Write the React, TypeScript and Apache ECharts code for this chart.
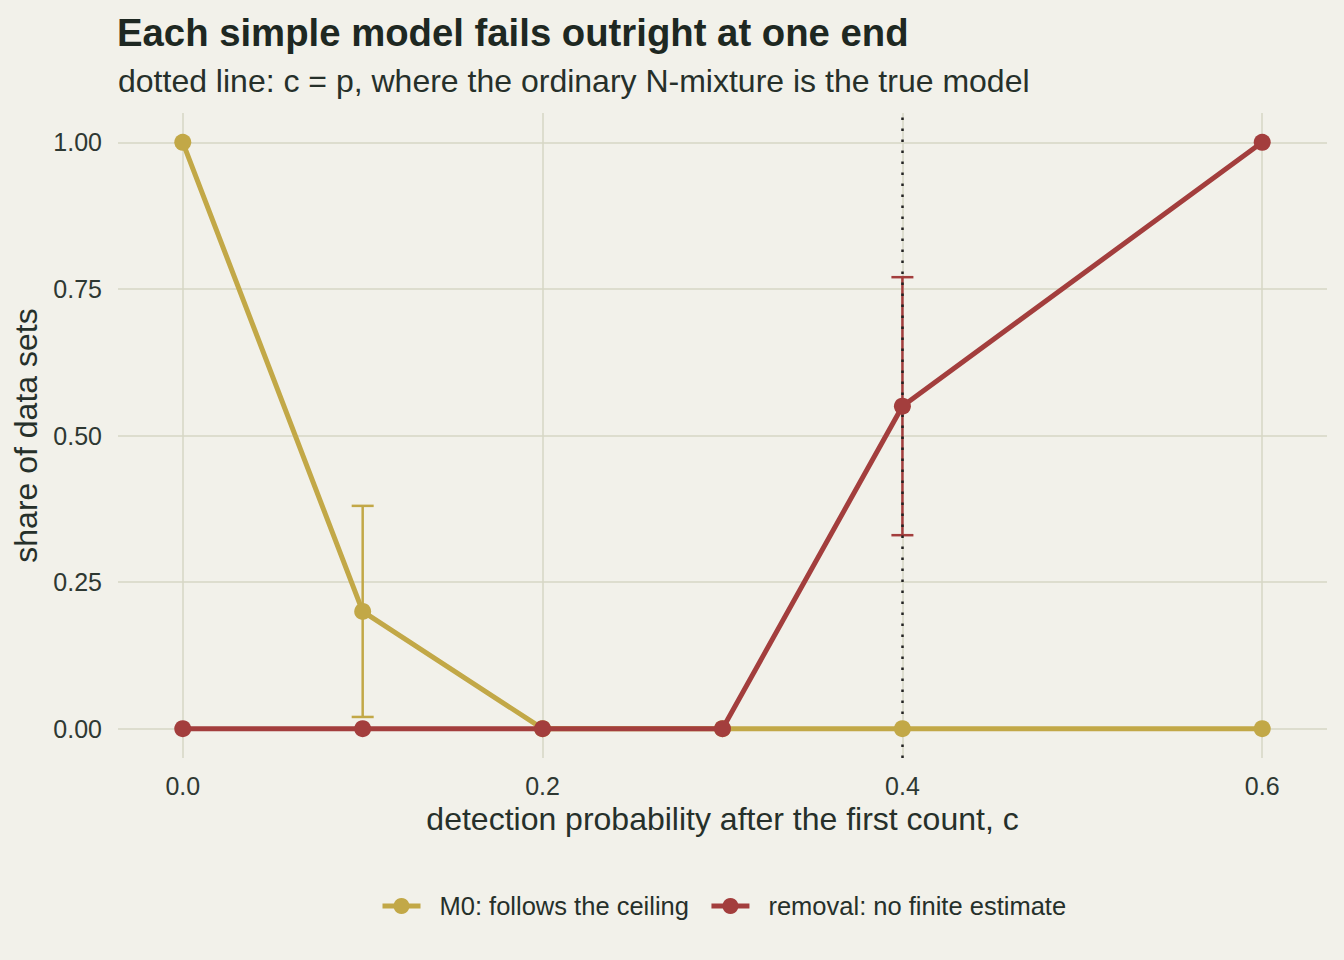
import React, { useEffect, useRef } from 'react';
import * as echarts from 'echarts';

// detection probability after the first count
const cValues = [0, 0.1, 0.2, 0.3, 0.4, 0.6];
// share of data sets where M0 follows the ceiling
const m0Share = [1, 0.2, 0, 0, 0, 0];
// share of data sets where removal model gives no finite estimate
const removalShare = [0, 0, 0, 0, 0.55, 1];

// error bars (interval on the share)
const m0ErrX = [0.1];
const m0ErrLow = [0.02];
const m0ErrHigh = [0.38];
const removalErrX = [0.4];
const removalErrLow = [0.33];
const removalErrHigh = [0.77];

const xTicks = [0, 0.2, 0.4, 0.6];
const yTicks = [0, 0.25, 0.5, 0.75, 1];
const trueModelC = 0.4;

const BG = '#F2F1EA';
const GRID = '#D6D6C4';
const GOLD = '#C2A847';
const RED = '#A33E3D';
const TEXT = '#1E2822';

const errorBars = (xs: number[], lo: number[], hi: number[]) =>
  xs.map((x, i) => [x, lo[i], hi[i]]);

const errorRender = (color: string) => (params: any, api: any) => {
  const x = api.value(0);
  const top = api.coord([x, api.value(2)]);
  const bot = api.coord([x, api.value(1)]);
  const cap = 11;
  const style = { stroke: color, lineWidth: 2.5 };
  return {
    type: 'group',
    children: [
      { type: 'line', shape: { x1: top[0], y1: top[1], x2: bot[0], y2: bot[1] }, style },
      { type: 'line', shape: { x1: top[0] - cap, y1: top[1], x2: top[0] + cap, y2: top[1] }, style },
      { type: 'line', shape: { x1: bot[0] - cap, y1: bot[1], x2: bot[0] + cap, y2: bot[1] }, style },
    ],
  };
};

const App: React.FC = () => {
  const chartRef = useRef<HTMLDivElement>(null);

  useEffect(() => {
    document.body.style.margin = '0';
    document.body.style.background = BG;
    if (!chartRef.current) return;
    const chart = echarts.init(chartRef.current, undefined, { renderer: 'svg' });

    const gridLine = { color: GRID, width: 1.5, type: 'solid' as const };

    chart.setOption({
      animation: false,
      backgroundColor: BG,
      textStyle: { fontFamily: '"Liberation Sans", Arial, sans-serif' },
      title: [
        {
          text: 'Each simple model fails outright at one end',
          left: 112,
          top: 8,
          textStyle: { fontSize: 38.3, fontWeight: 'bold', color: TEXT },
        },
        {
          text: 'dotted line: c = p, where the ordinary N-mixture is the true model',
          left: 113,
          top: 60,
          textStyle: { fontSize: 32, fontWeight: 'normal', color: '#26302A' },
        },
      ],
      grid: { left: 118, right: 17, top: 113, bottom: 202, containLabel: false },
      xAxis: {
        type: 'value',
        min: -0.036,
        max: 0.636,
        name: 'detection probability after the first count, c',
        nameLocation: 'middle',
        nameGap: 44,
        nameTextStyle: { fontSize: 32, color: '#26302A' },
        axisLine: { show: false },
        axisTick: { show: false },
        splitLine: { show: false },
        axisLabel: {
          customValues: xTicks,
          formatter: (v: number) => v.toFixed(1),
          fontSize: 25,
          color: '#2E3832',
          margin: 15,
        },
      },
      yAxis: {
        type: 'value',
        min: -0.05,
        max: 1.05,
        name: 'share of data sets',
        nameLocation: 'middle',
        nameGap: 72,
        nameTextStyle: { fontSize: 32, color: '#26302A' },
        axisLine: { show: false },
        axisTick: { show: false },
        splitLine: { show: false },
        axisLabel: {
          customValues: yTicks,
          formatter: (v: number) => v.toFixed(2),
          fontSize: 25,
          color: '#2E3832',
          margin: 16,
        },
      },
      legend: {
        bottom: 41,
        left: 380,
        padding: 0,
        itemWidth: 38,
        itemHeight: 20,
        itemGap: 20,
        lineStyle: { width: 5 },
        data: ['M0: follows the ceiling', 'removal: no finite estimate'],
        textStyle: { fontSize: 25.5, color: '#26302A', padding: [0, 0, 0, 14] },
      },
      series: [
        {
          name: 'grid',
          type: 'line',
          data: [],
          silent: true,
          z: 0,
          markLine: {
            z: 0,
            silent: true,
            symbol: ['none', 'none'],
            label: { show: false },
            lineStyle: gridLine,
            emphasis: { disabled: true },
            data: [
              ...xTicks.map((v) => ({ xAxis: v })),
              ...yTicks.map((v) => ({ yAxis: v })),
            ],
          },
        },
        {
          name: 'm0err',
          type: 'custom',
          renderItem: errorRender(GOLD),
          data: errorBars(m0ErrX, m0ErrLow, m0ErrHigh),
          z: 1,
          silent: true,
        },
        {
          name: 'remerr',
          type: 'custom',
          renderItem: errorRender(RED),
          data: errorBars(removalErrX, removalErrLow, removalErrHigh),
          z: 1,
          silent: true,
        },
        {
          name: 'vline',
          type: 'line',
          data: [],
          z: 2,
          silent: true,
          markLine: {
            z: 2,
            silent: true,
            symbol: ['none', 'none'],
            label: { show: false },
            emphasis: { disabled: true },
            lineStyle: { color: '#222222', width: 2.5, type: [2.5, 8.5] },
            data: [{ xAxis: trueModelC }],
          },
        },
        {
          name: 'M0: follows the ceiling',
          type: 'line',
          data: cValues.map((c, i) => [c, m0Share[i]]),
          color: GOLD,
          symbol: 'circle',
          symbolSize: 17,
          lineStyle: { width: 5, color: GOLD },
          itemStyle: { color: GOLD },
          z: 3,
        },
        {
          name: 'removal: no finite estimate',
          type: 'line',
          data: cValues.map((c, i) => [c, removalShare[i]]),
          color: RED,
          symbol: 'circle',
          symbolSize: 17,
          lineStyle: { width: 5, color: RED },
          itemStyle: { color: RED },
          z: 4,
        },
      ],
    });

    return () => {
      chart.dispose();
    };
  }, []);

  return <div ref={chartRef} style={{ width: '1344px', height: '960px' }} />;
};

export default App;
